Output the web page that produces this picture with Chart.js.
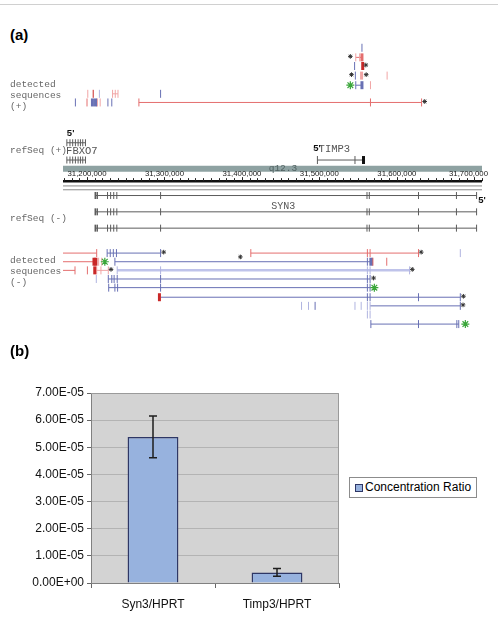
<!DOCTYPE html>
<html lang="en">
<head>
  <meta charset="UTF-8">
  <title>SYN3 / TIMP3 locus</title>
  <script src="https://cdn.jsdelivr.net/npm/chart.js"></script>
  <style>
    body { margin: 0; background: #fff; }
    #page { position: relative; width: 498px; height: 623px; overflow: hidden; font-family: "Liberation Sans", Arial, sans-serif; }
    .rule { position: absolute; left: 0; top: 4px; width: 498px; border-top: 1px solid #d0d0d0; }
    .tag { position: absolute; left: 10px; font-weight: bold; font-size: 15px; line-height: 15px; }
    #locus { position: absolute; left: 0; top: 0; }
    #ratio { position: absolute; left: 0; top: 370px; }
    .legend { position: absolute; left: 349px; top: 477px; width: 126px; height: 19px; border: 1px solid #8c8c8c; background: #fff; font-size: 12px; line-height: 19px; }
    .legend .sw { position: absolute; left: 5px; top: 6px; width: 6px; height: 6px; background: #97b2de; border: 1px solid #2e3766; }
    .legend span { position: absolute; left: 15px; top: 0; white-space: nowrap; }
  </style>
</head>
<body>
  <div id="page">
    <div class="rule"></div>
    <div class="tag" style="top:27px">(a)</div>
    <canvas id="locus" width="498" height="345"></canvas>
    <div class="tag" style="top:343px">(b)</div>
    <canvas id="ratio" width="498" height="253"></canvas>
    <div class="legend"><div class="sw"></div><span>Concentration Ratio</span></div>
  </div>

  <script>
    // ---------- panel (a): chr22 positions in kb, rows = track lanes (top down) ----------
    const locusRange = [31169, 31710];
    const rulerMarks = [31200, 31300, 31400, 31500, 31600, 31700];

    // [row, kind, start, end]
    const segments = [
      // detected (+)
      [52.5, 'red', 31547, 31555], [81.5, 'blue', 31547, 31555], [90.5, 'pink', 31233, 31240],
      [99.5, 'red', 31267, 31632],
      // refSeq (+)
      [141.5, 'gray', 31174, 31198], [159.5, 'gray', 31174, 31198], [159.5, 'gray', 31497.5, 31559],
      // band + ruler
      [168.5, 'band', 31169, 31710], [181.5, 'ruler', 31169, 31710],
      [186.5, 'rule', 31169, 31710], [190.5, 'rule', 31169, 31710],
      // refSeq (-) SYN3
      [196.5, 'gray', 31211, 31703], [213.5, 'gray', 31211, 31703], [230.5, 'gray', 31211, 31703],
      // detected (-)
      [256.5, 'red', 31169, 31212.5], [256.5, 'blue', 31226, 31295], [256.5, 'red', 31411.5, 31628],
      [265.5, 'red', 31169, 31210], [265.5, 'blue', 31236, 31567],
      [274.5, 'red', 31169, 31184.5], [274.5, 'pink', 31212.5, 31227.5], [274.5, 'lavender', 31239, 31616.5],
      [283.5, 'blue', 31227.5, 31565.5],
      [292.5, 'blue', 31228, 31565.5],
      [302.5, 'blue', 31295, 31682],
      [311.5, 'blue', 31565.5, 31682],
      [330.5, 'blue', 31566.5, 31680]
    ];

    // exon ticks: [row, kind, positions]
    const exonTicks = [
      [42.5, 'blue', [31555]],
      [52.5, 'pink', [31547, 31552]],
      [61.5, 'blue', [31545.5]],
      [71.5, 'blue', [31546.5]], [71.5, 'pink', [31587.5]],
      [81.5, 'blue', [31547]], [81.5, 'pink', [31566]],
      [90.5, 'pink', [31201, 31233, 31236.5, 31240]], [90.5, 'dkred', [31208]],
      [90.5, 'ltblue', [31216]], [90.5, 'blue', [31295]],
      [99.5, 'blue', [31185, 31227, 31232]], [99.5, 'red', [31200, 31213, 31267, 31566, 31632]],
      [99.5, 'pink', [31217]],
      [159.5, 'gray', [31497.5, 31546]],
      [256.5, 'red', [31212.5, 31411.5, 31562, 31565.5, 31628]],
      [256.5, 'blue', [31226, 31230, 31234, 31238, 31295]], [256.5, 'ltblue', [31682]],
      [265.5, 'pink', [31215, 31219]], [265.5, 'blue', [31236, 31562]],
      [265.5, 'dkred', [31569]], [265.5, 'red', [31587]],
      [274.5, 'red', [31184.5, 31200.5]], [274.5, 'pink', [31212.5, 31218, 31227.5]],
      [274.5, 'ltblue', [31239, 31295, 31562, 31565.5, 31616.5]],
      [283.5, 'ltblue', [31212]],
      [283.5, 'blue', [31227.5, 31232, 31235, 31239, 31295, 31562, 31565.5]],
      [292.5, 'blue', [31228, 31236, 31239.5, 31295, 31562, 31565.5]],
      [302.5, 'blue', [31562, 31565.5, 31628, 31682]],
      [311.5, 'ltblue', [31477, 31486, 31546, 31554, 31562, 31565.5]], [311.5, 'blue', [31494.5, 31682]],
      [320.5, 'ltblue', [31562, 31565.5]],
      [330.5, 'blue', [31566.5, 31628, 31677.5, 31680]]
    ];

    // refSeq exons (shorter ticks)
    const refTicks = [
      [141.5, 'gray', [31174, 31178, 31181.5, 31185, 31188.5, 31191.5, 31194.5, 31198]],
      [159.5, 'gray', [31174, 31178, 31181.5, 31185, 31188.5, 31191.5, 31194.5, 31198]],
      [196.5, 'gray', [31213.5, 31226.5, 31230.5, 31234.5, 31238.5, 31295, 31561.5, 31564.5, 31628, 31677, 31703]],
      [213.5, 'gray', [31213.5, 31226.5, 31230.5, 31234.5, 31238.5, 31295, 31561.5, 31564.5, 31628, 31677, 31703]],
      [230.5, 'gray', [31213.5, 31226.5, 31230.5, 31234.5, 31238.5, 31295, 31561.5, 31564.5, 31628, 31677, 31703]]
    ];

    // wide exon blocks: [row, kind, positions]
    const exonBlocks = [
      [52.5, 'red', [31555]], [61.5, 'dkred', [31556]], [71.5, 'pink', [31554.5]],
      [81.5, 'blue', [31555]], [99.5, 'blue', [31207, 31211]],
      [159.5, 'black', [31557]],
      [265.5, 'dkred', [31209, 31211.5]], [265.5, 'blue', [31566.5]],
      [274.5, 'dkred', [31210]],
      [302.5, 'dkred', [31293.5]]
    ];
    // SYN3 transcript start marks
    const refStarts = [[196.5, 'gray', [31211]], [213.5, 'gray', [31211]], [230.5, 'gray', [31211]]];

    // [row, position]
    const asterisks = [
      [52.5, 31540], [61.5, 31560], [71.5, 31541.5], [71.5, 31560.5], [99.5, 31636],
      [256.5, 31299], [256.5, 31631.5], [261.5, 31398], [274.5, 31231], [274.5, 31620],
      [283.5, 31570], [302.5, 31686], [311.5, 31685.5]
    ];
    const greenStars = [[81.5, 31540], [265.5, 31223], [292.5, 31571], [330.5, 31688.5]];

    const trackLabels = [
      [81, 'detected'], [92.5, 'sequences'], [104, '(+)'],
      [150, 'refSeq (+)'], [220, 'refSeq (-)'],
      [264.5, 'detected'], [276, 'sequences'], [287.5, '(-)']
    ];
    // [row, position, text]
    const geneLabels = [[150, 31173, 'FBXO7'], [148, 31499, 'TIMP3'], [207.5, 31438, 'SYN3']];
    const fivePrime = [[132, 31174], [147.5, 31492], [202, 31705]];
    const bandLabel = [168.5, 31453, 'q12.3'];

    // ---------- panel (b) ----------
    const categories = ['Syn3/HPRT', 'Timp3/HPRT'];
    const ratioValues = [5.38e-5, 0.39e-5];
    const ratioErrors = [0.77e-5, 0.14e-5];
    const ratioTicks = [0, 1e-5, 2e-5, 3e-5, 4e-5, 5e-5, 6e-5, 7e-5];

    // ---------- styles ----------
    const styles = {
      red: ['#e46e6e', 1], pink: ['#f1a5a5', 1], dkred: ['#c92828', 1], blue: ['#6870b4', 1],
      ltblue: ['#b0b4e0', 1], lavender: ['#bfc3ea', 2.5], gray: ['#5c5c5c', 1], black: ['#111111', 1],
      band: ['#8ea2a2', 6], ruler: ['#111111', 2.5], rule: ['#8a8a8a', 1]
    };

    const locusSets = [];
    segments.forEach(([y, k, a, b]) => locusSets.push({
      data: [{ x: a, y }, { x: b, y }], borderColor: styles[k][0], borderWidth: styles[k][1],
      pointRadius: 0, order: 3, clip: false
    }));
    const tickSet = (rows, radius, width, order) => rows.forEach(([y, k, xs]) => locusSets.push({
      data: xs.map(x => ({ x, y })), showLine: false, pointStyle: 'line', pointRotation: 90,
      pointRadius: radius, pointBorderColor: styles[k][0], pointBorderWidth: width, order, clip: false
    }));
    tickSet(refTicks, 3.5, 1, 2);
    tickSet(refStarts, 3.5, 2, 2);
    tickSet(exonTicks, 4, 1, 2);
    tickSet(exonBlocks, 4, 3, 1);
    locusSets.push({
      data: asterisks.map(([y, x]) => ({ x, y: y - 1 })), showLine: false, pointStyle: 'star',
      pointRadius: 2.3, pointBorderColor: '#333', pointBorderWidth: 1, order: 0, clip: false
    });
    locusSets.push({
      data: greenStars.map(([y, x]) => ({ x, y })), showLine: false, pointStyle: 'star',
      pointRadius: 4, pointBorderColor: '#3aa63a', pointBackgroundColor: 'rgba(0,0,0,0)',
      pointBorderWidth: 1.2, order: 0, clip: false
    });

    const locusText = {
      id: 'locusText',
      afterDraw(chart) {
        const { ctx, scales: { x, y } } = chart;
        ctx.save();
        ctx.textBaseline = 'middle';

        // ruler ticks every 10 kb above the ruler line
        ctx.strokeStyle = '#222';
        ctx.lineWidth = 1;
        const ry = y.getPixelForValue(181.5);
        for (let v = Math.ceil(x.min / 10) * 10; v <= x.max; v += 10) {
          const px = Math.round(x.getPixelForValue(v)) + 0.5;
          ctx.beginPath();
          ctx.moveTo(px, ry - (v % 100 === 0 ? 4 : 3));
          ctx.lineTo(px, ry);
          ctx.stroke();
        }
        ctx.font = '7.8px "Liberation Sans", Arial, sans-serif';
        ctx.fillStyle = '#222';
        ctx.textAlign = 'center';
        rulerMarks.forEach(v => {
          const label = (v * 1000).toLocaleString('en-US');
          const w = ctx.measureText(label).width;
          const cx = Math.min(x.getPixelForValue(v), chart.width - 10 - w / 2);
          ctx.fillText(label, cx, y.getPixelForValue(174.3));
        });

        // band name
        ctx.font = '9.5px "Liberation Mono", monospace';
        ctx.fillStyle = '#4f6060';
        ctx.fillText(bandLabel[2], x.getPixelForValue(bandLabel[1]), y.getPixelForValue(bandLabel[0]));

        // track labels
        ctx.textAlign = 'left';
        ctx.fillStyle = '#666';
        trackLabels.forEach(([row, t]) => ctx.fillText(t, 10, y.getPixelForValue(row)));

        // gene names
        ctx.fillStyle = '#555';
        geneLabels.forEach(([row, pos, t]) => {
          ctx.font = (t === 'SYN3' ? '10px' : '10.5px') + ' "Liberation Mono", monospace';
          ctx.fillText(t, x.getPixelForValue(pos), y.getPixelForValue(row));
        });

        // 5' ends
        ctx.font = 'bold 9.5px "Liberation Sans", Arial, sans-serif';
        ctx.fillStyle = '#111';
        fivePrime.forEach(([row, pos]) => ctx.fillText("5'", x.getPixelForValue(pos), y.getPixelForValue(row)));
        ctx.restore();
      }
    };

    new Chart(document.getElementById('locus'), {
      type: 'line',
      data: { datasets: locusSets },
      options: {
        responsive: false,
        animation: false,
        events: [],
        layout: { padding: { left: 63, right: 16, top: 0, bottom: 0 } },
        scales: {
          x: { type: 'linear', min: locusRange[0], max: locusRange[1], display: false },
          y: { type: 'linear', min: 0, max: 345, reverse: true, display: false }
        },
        plugins: { legend: { display: false }, tooltip: { enabled: false } }
      },
      plugins: [locusText]
    });

    // ---------- panel (b) chart ----------
    const sci = v => {
      if (v === 0) return '0.00E+00';
      const e = Math.floor(Math.log10(v) + 1e-9);
      const m = v / Math.pow(10, e);
      return m.toFixed(2) + 'E' + (e < 0 ? '-' : '+') + String(Math.abs(e)).padStart(2, '0');
    };

    const plotFrame = {
      id: 'plotFrame',
      beforeDraw(chart) {
        const { ctx, chartArea: a } = chart;
        ctx.save();
        ctx.fillStyle = '#d3d3d3';
        ctx.fillRect(a.left, a.top, a.right - a.left, a.bottom - a.top);
        ctx.restore();
      },
      afterDatasetsDraw(chart) {
        const { ctx, chartArea: a, scales: { y } } = chart;
        ctx.save();
        ctx.strokeStyle = '#9a9a9a';
        ctx.lineWidth = 1;
        ctx.beginPath();
        ctx.moveTo(a.left, a.top + 0.5);
        ctx.lineTo(a.right - 0.5, a.top + 0.5);
        ctx.lineTo(a.right - 0.5, a.bottom);
        ctx.stroke();
        // error bars
        ctx.strokeStyle = '#1e1e1e';
        ctx.lineWidth = 1.5;
        chart.getDatasetMeta(0).data.forEach((bar, i) => {
          const hi = y.getPixelForValue(ratioValues[i] + ratioErrors[i]);
          const lo = y.getPixelForValue(ratioValues[i] - ratioErrors[i]);
          ctx.beginPath();
          ctx.moveTo(bar.x, hi); ctx.lineTo(bar.x, lo);
          ctx.moveTo(bar.x - 4, hi); ctx.lineTo(bar.x + 4, hi);
          ctx.moveTo(bar.x - 4, lo); ctx.lineTo(bar.x + 4, lo);
          ctx.stroke();
        });
        ctx.restore();
      }
    };

    const tickFont = { family: '"Liberation Sans", Arial, sans-serif', size: 12 };
    new Chart(document.getElementById('ratio'), {
      type: 'bar',
      data: {
        labels: categories,
        datasets: [{
          label: 'Concentration Ratio',
          data: ratioValues,
          backgroundColor: '#97b2de',
          borderColor: '#2e3766',
          borderWidth: 1.5,
          categoryPercentage: 1,
          barPercentage: 0.41
        }]
      },
      options: {
        responsive: false,
        animation: false,
        events: [],
        layout: { padding: { left: 0, right: 159, top: 23, bottom: 0 } },
        scales: {
          x: {
            afterFit: s => { s.height = 40; },
            grid: { offset: true, drawOnChartArea: false, tickLength: 5, tickColor: '#666' },
            border: { color: '#808080' },
            ticks: { color: '#111', font: tickFont, padding: 9 }
          },
          y: {
            min: 0, max: 7e-5,
            afterFit: s => { s.width = 91; },
            afterBuildTicks: s => { s.ticks = ratioTicks.map(v => ({ value: v })); },
            grid: { color: '#b3b3b3', tickLength: 4, tickColor: '#666' },
            border: { color: '#808080' },
            ticks: { color: '#111', font: tickFont, padding: 3, callback: v => sci(v) }
          }
        },
        plugins: { legend: { display: false }, tooltip: { enabled: false } }
      },
      plugins: [plotFrame]
    });
  </script>
</body>
</html>
